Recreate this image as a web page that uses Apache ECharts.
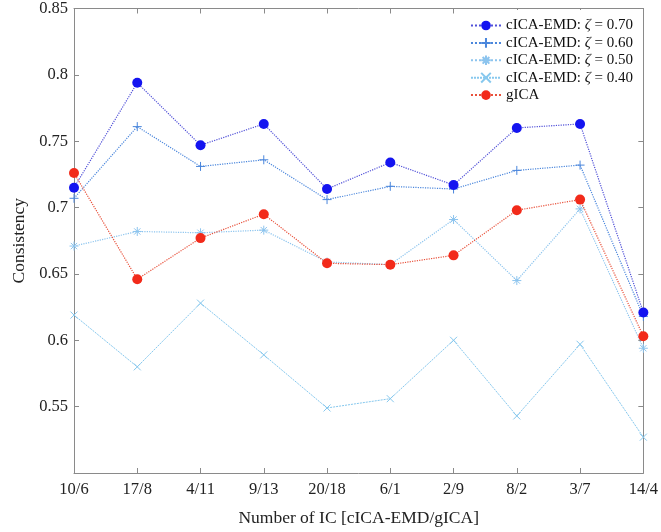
<!DOCTYPE html>
<html><head><meta charset="utf-8">
<script src="https://cdn.jsdelivr.net/npm/echarts@6/dist/echarts.min.js"></script>
<style>html,body{margin:0;padding:0;background:#fff}#c{width:661px;height:532px}</style>
</head><body><div id="c"></div>
<script>
var categories = ['10/6','17/8','4/11','9/13','20/18','6/1','2/9','8/2','3/7','14/4'];
var zeta070 = [0.715,0.794,0.747,0.763,0.714,0.734,0.717,0.760,0.763,0.621];
var zeta060 = [0.707,0.761,0.731,0.736,0.706,0.716,0.714,0.728,0.732,0.618];
var zeta050 = [0.671,0.682,0.681,0.683,0.659,0.657,0.691,0.645,0.699,0.594];
var zeta040 = [0.619,0.580,0.628,0.589,0.549,0.556,0.600,0.543,0.597,0.527];
var gica    = [0.726,0.646,0.677,0.695,0.658,0.657,0.664,0.698,0.706,0.603];
var seriesNames = ['cICA-EMD: \u03B6 = 0.70','cICA-EMD: \u03B6 = 0.60','cICA-EMD: \u03B6 = 0.50','cICA-EMD: \u03B6 = 0.40','gICA'];

var FONT = '"Liberation Serif","DejaVu Serif",serif';
var AX = '#8a8a8a';
var plusPath = 'path://M5,0L5,10M0,5L10,5';
var crossPath = 'path://M0,0L10,10M10,0L0,10';
var starPath = 'path://M5,0L5,10M0,5L10,5M1.5,1.5L8.5,8.5M8.5,1.5L1.5,8.5';

function strokeMarker(color){
  return {color: 'rgba(0,0,0,0)', borderColor: color, borderWidth: 1};
}

var chart = echarts.init(document.getElementById('c'), null, {renderer:'canvas'});
chart.setOption({
  animation: false,
  backgroundColor: '#fff',
  textStyle: {fontFamily: FONT},
  grid: {left: 74, right: 17, top: 8, bottom: 55, containLabel: false},
  legend: {
    right: 18, top: 10, orient: 'vertical',
    backgroundColor: '#fff', borderWidth: 0,
    padding: [8, 10, 12, 10], itemGap: 2.4, itemWidth: 30, itemHeight: 12,
    textStyle: {fontFamily: FONT, fontSize: 15, color: '#111',
      rich: {a: {fontFamily: FONT, fontSize: 15, color: '#111'},
             i: {fontFamily: FONT, fontSize: 15, color: '#111', fontStyle: 'italic'}}},
    formatter: function(n){
      var k = n.indexOf('\u03B6');
      if (k < 0) return '{a|' + n + '}';
      return '{a|' + n.slice(0,k) + '}{i|\u03B6}{a|' + n.slice(k+1) + '}';
    },
    data: seriesNames.map(function(n){return {name:n};})
  },
  xAxis: [{
    type: 'category', data: categories, boundaryGap: false,
    name: 'Number of IC [cICA-EMD/gICA]', nameLocation: 'middle', nameGap: 36,
    nameTextStyle: {fontFamily: FONT, fontSize: 17.5, color: '#222'},
    axisLine: {lineStyle: {color: AX}},
    axisTick: {inside: true, length: 5, lineStyle: {color: AX}, alignWithLabel: true},
    axisLabel: {fontFamily: FONT, fontSize: 16.5, color: '#222', margin: 8},
    splitLine: {show: false}
  },{
    type: 'category', data: categories, boundaryGap: false, position: 'top',
    axisLine: {lineStyle: {color: AX}},
    axisTick: {inside: true, length: 5, lineStyle: {color: AX}},
    axisLabel: {show: false}, splitLine: {show: false}
  }],
  yAxis: [{
    type: 'value', min: 0.5, max: 0.85, interval: 0.05,
    name: 'Consistency', nameLocation: 'middle', nameGap: 42,
    nameTextStyle: {fontFamily: FONT, fontSize: 17.5, color: '#222'},
    axisLine: {show: true, lineStyle: {color: AX}},
    axisTick: {show: true, inside: true, length: 5, lineStyle: {color: AX}},
    axisLabel: {fontFamily: FONT, fontSize: 16.5, color: '#222', margin: 6, showMinLabel: false},
    splitLine: {show: false}
  },{
    type: 'value', min: 0.5, max: 0.85, interval: 0.05, position: 'right',
    axisLine: {show: true, lineStyle: {color: AX}},
    axisTick: {show: true, inside: true, length: 5, lineStyle: {color: AX}},
    axisLabel: {show: false}, splitLine: {show: false}
  }],
  series: [
    {name: seriesNames[0], type: 'line', data: zeta070, symbol: 'circle', symbolSize: 10,
     itemStyle: {color: '#1414f0'}, lineStyle: {color: '#5050d8', width: 1.2, type: 'dotted'}, z: 6},
    {name: seriesNames[1], type: 'line', data: zeta060, symbol: plusPath, symbolSize: 9,
     itemStyle: strokeMarker('#4a86dc'), lineStyle: {color: '#4a86dc', width: 1.2, type: 'dotted'}, z: 5},
    {name: seriesNames[2], type: 'line', data: zeta050, symbol: starPath, symbolSize: 9,
     itemStyle: strokeMarker('#8cc4ee'), lineStyle: {color: '#8cc4ee', width: 1.2, type: 'dotted'}, z: 4},
    {name: seriesNames[3], type: 'line', data: zeta040, symbol: crossPath, symbolSize: 7,
     itemStyle: strokeMarker('#86c8ee'), lineStyle: {color: '#86c8ee', width: 1, type: [2,1]}, z: 3},
    {name: seriesNames[4], type: 'line', data: gica, symbol: 'circle', symbolSize: 10,
     itemStyle: {color: '#f22a1a'}, lineStyle: {color: '#e8503a', width: 1.2, type: 'dotted'}, z: 7}
  ]
});
</script></body></html>
